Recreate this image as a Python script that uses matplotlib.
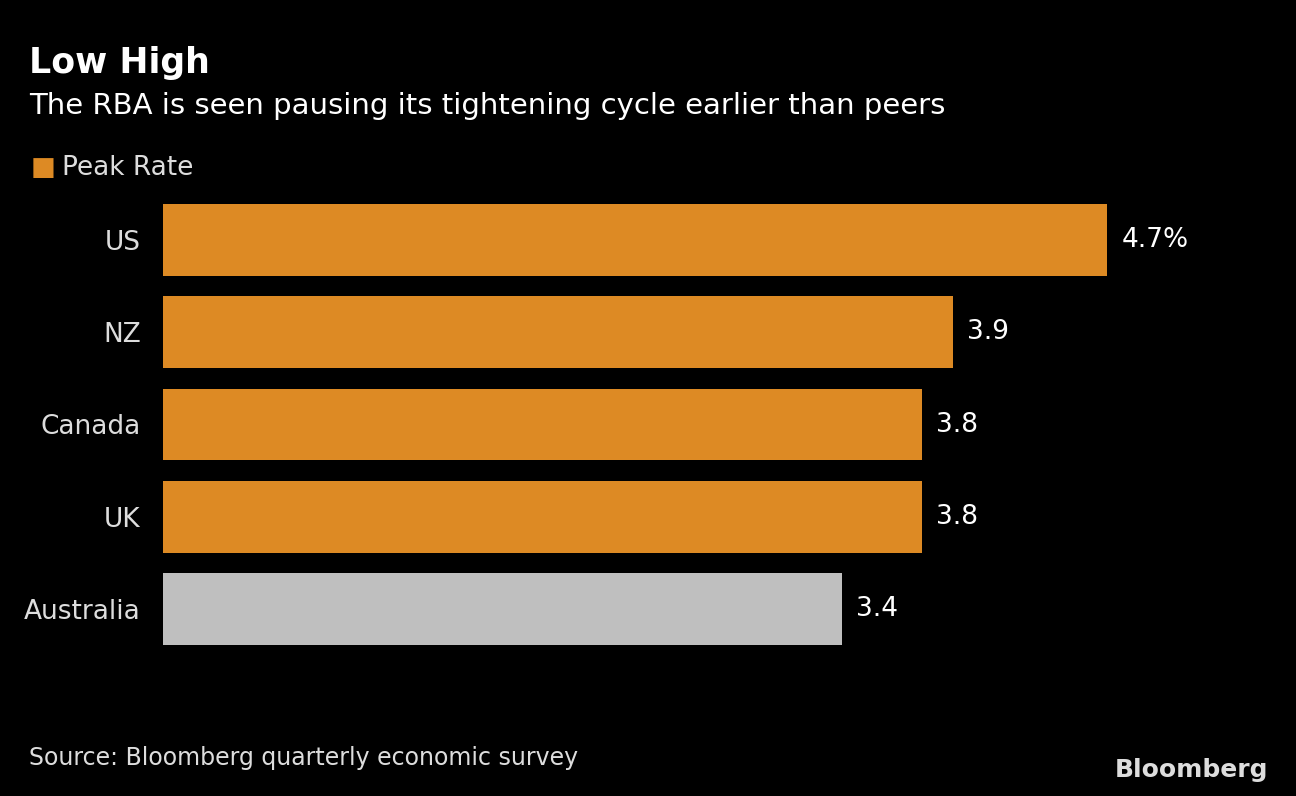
import matplotlib.pyplot as plt

countries = ["US", "NZ", "Canada", "UK", "Australia"]
peak_rate = [4.7, 3.93, 3.78, 3.78, 3.38]
labels = ["4.7%", "3.9", "3.8", "3.8", "3.4"]
colors = ["#DD8A24", "#DD8A24", "#DD8A24", "#DD8A24", "#BFBFBF"]

fig = plt.figure(figsize=(12.96, 7.96), dpi=100, facecolor="black")
ax = fig.add_axes([163 / 1296, 1 - 655 / 796, 1105 / 1296, 461 / 796])
ax.set_facecolor("black")

y = range(len(countries))
ax.barh(y, peak_rate, height=0.78, color=colors)
for i, (v, t) in enumerate(zip(peak_rate, labels)):
    ax.text(v + 0.07, i, t, color="white", fontsize=19, va="center", ha="left")

ax.set_xlim(0, 5.5)
ax.set_ylim(4.5, -0.5)
ax.set_yticks(list(y))
ax.set_yticklabels(countries, color="#DDDDDD", fontsize=19)
ax.tick_params(axis="y", length=0, pad=16)
ax.set_xticks([])
for s in ax.spines.values():
    s.set_visible(False)

fig.text(29 / 1296, 1 - 63 / 796, "Low High", color="white", fontsize=25, fontweight="bold", va="center")
fig.text(29 / 1296, 1 - 106 / 796, "The RBA is seen pausing its tightening cycle earlier than peers",
         color="white", fontsize=21, va="center")
fig.text(31 / 1296, 1 - 168 / 796, "\u25A0", color="#DD8A24", fontsize=19, va="center")
fig.text(62 / 1296, 1 - 168 / 796, "Peak Rate", color="#DDDDDD", fontsize=19, va="center")
fig.text(29 / 1296, 1 - 758 / 796, "Source: Bloomberg quarterly economic survey",
         color="#DDDDDD", fontsize=17, va="center")
fig.text(1268 / 1296, 1 - 770 / 796, "Bloomberg", color="#DDDDDD", fontsize=18,
         fontweight="bold", ha="right", va="center")

fig.savefig("out.png", dpi=100, facecolor="black")
